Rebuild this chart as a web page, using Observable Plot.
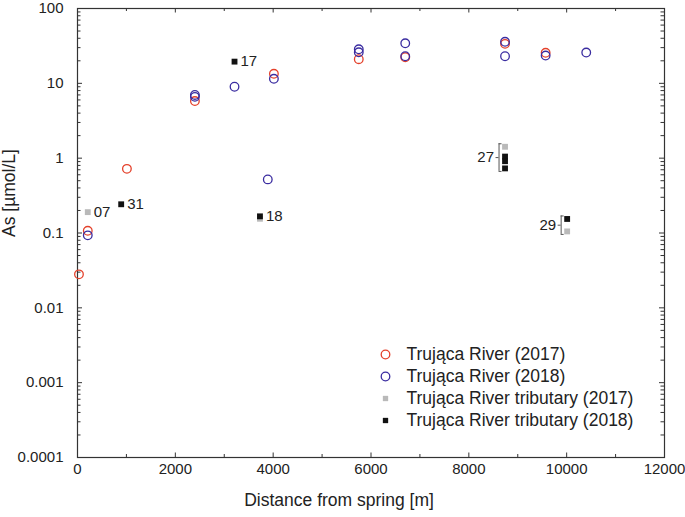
<!DOCTYPE html>
<html>
<head>
<meta charset="utf-8">
<script src="https://cdn.jsdelivr.net/npm/d3@7"></script>
<script src="https://cdn.jsdelivr.net/npm/@observablehq/plot@0.6"></script>
<style>
  html, body { margin: 0; padding: 0; background: #fff; }
</style>
</head>
<body>
<div id="chart"></div>
<script>
// ---- data ----
const river2017X = [30, 210, 1010, 2400, 4015, 5750, 6700, 8740, 9570];
const river2017Y = [0.028, 0.107, 0.72, 5.8, 13.4, 21, 22.3, 33.7, 25.6];

const river2018X = [210, 2400, 2400, 3210, 3890, 4015, 5750, 5750, 6700, 6700, 8740, 8740, 9570, 10400];
const river2018Y = [0.093, 7.0, 6.6, 9.0, 0.52, 11.5, 28.5, 26, 34.3, 23, 35.9, 23, 23.5, 25.8];

const trib2017X = [210, 3730, 8740, 10010];
const trib2017Y = [0.19, 0.155, 1.42, 0.105];

const trib2018X = [893, 3210, 3730, 8740, 8740, 8740, 10010];
const trib2018Y = [0.242, 19.5, 0.167, 1.05, 0.91, 0.73, 0.154];

const pointLabelText = ["07", "31", "17", "18"];
const pointLabelX = [210, 893, 3210, 3730];
const pointLabelY = [0.19, 0.242, 19.5, 0.167];

const groupLabelText = ["27", "29"];
const groupLabelX = [8740, 10010];
const groupLabelLo = [0.73, 0.105];
const groupLabelHi = [1.42, 0.154];

const legendLabels = [
  "Trująca River (2017)",
  "Trująca River (2018)",
  "Trująca River tributary (2017)",
  "Trująca River tributary (2018)"
];

const xTickValues = [0, 2000, 4000, 6000, 8000, 10000, 12000];
const xTickLabels = ["0", "2000", "4000", "6000", "8000", "10000", "12000"];
const xMinorTicks = [1000, 3000, 5000, 7000, 9000, 11000];
const yTickValues = [0.0001, 0.001, 0.01, 0.1, 1, 10, 100];
const yTickLabels = ["0.0001", "0.001", "0.01", "0.1", "1", "10", "100"];

// ---- build tables ----
const zip = (xs, ys) => xs.map((x, i) => ({x, y: ys[i]}));
const r17 = zip(river2017X, river2017Y);
const r18 = zip(river2018X, river2018Y);
const t17 = zip(trib2017X, trib2017Y);
const t18 = zip(trib2018X, trib2018Y);
const pointLabels = pointLabelText.map((t, i) => ({t, x: pointLabelX[i], y: pointLabelY[i]}));
const groups = groupLabelText.map((t, i) => ({t, x: groupLabelX[i], lo: groupLabelLo[i], hi: groupLabelHi[i]}));
const yTicks = yTickValues.map((v, i) => ({v, t: yTickLabels[i]}));
const xTicks = xTickValues.map((v, i) => ({v, t: xTickLabels[i]}));
const yMinor = [];
for (let i = 0; i < yTickValues.length - 1; i++) for (let k = 2; k <= 9; k++) yMinor.push(yTickValues[i] * k);

// ---- styles ----
const RED = "#e4412b", BLUE = "#3a2ca0", GRAY = "#b9b9b9", BLACK = "#111111";
const styles = [
  {symbol: "circle", stroke: RED, fill: "none", r: 4.3, strokeWidth: 1.3},
  {symbol: "circle", stroke: BLUE, fill: "none", r: 4.3, strokeWidth: 1.3},
  {symbol: "square", fill: GRAY, stroke: "none", r: 3.3},
  {symbol: "square", fill: BLACK, stroke: "none", r: 3.3}
];
const AX = "#333";
const TXT = "#222";

const legendMarks = [];
legendLabels.forEach((lab, i) => {
  const s = styles[i];
  legendMarks.push(Plot.dot([lab], {frameAnchor: "top-left", dx: 308, dy: 346 + i * 22, ...s, r: s.symbol === "square" ? 3.0 : s.r}));
  legendMarks.push(Plot.text([lab], {frameAnchor: "top-left", text: d => d, dx: 329, dy: 346 + i * 22, textAnchor: "start", lineAnchor: "middle", fontSize: 17.5, fill: TXT}));
});

const chart = Plot.plot({
  width: 685,
  height: 517,
  marginLeft: 77,
  marginRight: 21,
  marginTop: 8,
  marginBottom: 60,
  style: {fontFamily: "'Liberation Sans', Arial, sans-serif", background: "#fff", color: TXT},
  x: {domain: [0, 12000], axis: null},
  y: {type: "log", domain: [0.0001, 100], axis: null},
  marks: [
    Plot.frame({stroke: AX, strokeWidth: 1.2}),
    // inward ticks
    Plot.ruleY(yTickValues, {y: d => d, x1: d => 0, x2: d => 0, insetRight: -5, stroke: AX}),
    Plot.ruleY(yMinor, {y: d => d, x1: d => 0, x2: d => 0, insetRight: -3.5, stroke: AX}),
    Plot.ruleY(yTickValues, {y: d => d, x1: d => 12000, x2: d => 12000, insetLeft: -5, stroke: AX}),
    Plot.ruleY(yMinor, {y: d => d, x1: d => 12000, x2: d => 12000, insetLeft: -3.5, stroke: AX}),
    Plot.ruleX(xTickValues, {x: d => d, y1: d => 0.0001, y2: d => 0.0001, insetTop: -4.5, stroke: AX}),
    Plot.ruleX(xMinorTicks, {x: d => d, y1: d => 0.0001, y2: d => 0.0001, insetTop: -3, stroke: AX}),
    Plot.ruleX(xTickValues, {x: d => d, y1: d => 100, y2: d => 100, insetBottom: -4.5, stroke: AX}),
    Plot.ruleX(xMinorTicks, {x: d => d, y1: d => 100, y2: d => 100, insetBottom: -3, stroke: AX}),
    // tick labels (through the scales)
    Plot.text(xTicks, {x: "v", frameAnchor: "bottom", text: "t", dy: 16, fontSize: 15, fill: TXT}),
    Plot.text(yTicks, {y: "v", frameAnchor: "left", text: "t", dx: -14, textAnchor: "end", fontSize: 15, fill: TXT}),
    // axis titles
    Plot.text(["Distance from spring [m]"], {frameAnchor: "bottom", text: d => d, dy: 48, dx: -32, fontSize: 17.5, fill: TXT}),
    Plot.text(["As [µmol/L]"], {frameAnchor: "left", text: d => d, rotate: -90, dx: -68, dy: 4, fontSize: 17.5, fill: TXT}),
    // data
    Plot.dot(t17, {x: "x", y: "y", ...styles[2]}),
    Plot.dot(t18, {x: "x", y: "y", ...styles[3]}),
    Plot.dot(r17, {x: "x", y: "y", ...styles[0]}),
    Plot.dot(r18, {x: "x", y: "y", ...styles[1]}),
    // point labels
    Plot.text(pointLabels, {x: "x", y: "y", text: "t", dx: 6, textAnchor: "start", fontSize: 15, fill: TXT}),
    // brackets for grouped labels
    Plot.ruleX(groups, {x: "x", y1: "hi", y2: "lo", dx: -6, insetTop: -3, insetBottom: -3, stroke: "#555", strokeWidth: 1}),
    Plot.ruleY(groups, {y: "hi", x1: "x", x2: "x", insetLeft: -6, insetRight: 3, dy: -3, stroke: "#555", strokeWidth: 1}),
    Plot.ruleY(groups, {y: "lo", x1: "x", x2: "x", insetLeft: -6, insetRight: 3, dy: 3, stroke: "#555", strokeWidth: 1}),
    Plot.ruleY(groups, {y: d => Math.sqrt(d.lo * d.hi), x1: "x", x2: "x", insetLeft: -9, insetRight: 6, stroke: "#555", strokeWidth: 1}),
    Plot.text(groups, {x: "x", y: d => Math.sqrt(d.lo * d.hi), text: "t", dx: -11, textAnchor: "end", fontSize: 15, fill: TXT}),
    // legend
    ...legendMarks
  ]
});
document.getElementById("chart").appendChild(chart);
</script>
</body>
</html>
